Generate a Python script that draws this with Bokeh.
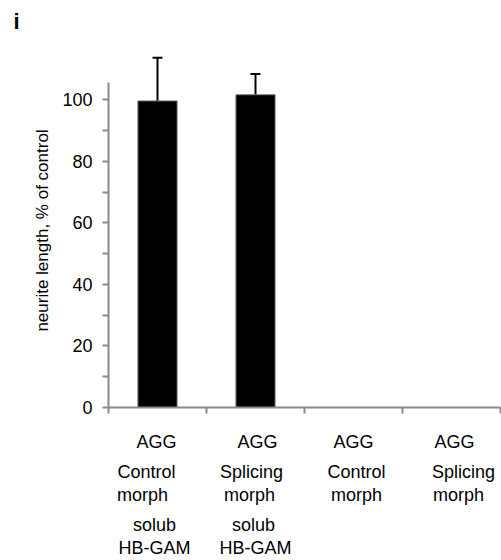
from bokeh.plotting import figure
from bokeh.models import (FixedTicker, Whisker, ColumnDataSource, TeeHead,
                          LinearAxis, Range1d, Title)
from bokeh.embed import file_html
from bokeh.resources import INLINE

# ---- data ----
group_line = ["AGG", "AGG", "AGG", "AGG"]
morph_line1 = ["Control", "Splicing", "Control", "Splicing"]
morph_line2 = ["morph", "morph", "morph", "morph"]
treat_line1 = ["solub", "solub", "", ""]
treat_line2 = ["HB-GAM", "HB-GAM", "", ""]
values = [99.6, 101.6, 0, 0]
errors = [14.0, 6.7, 0, 0]
y_ticks = [0, 20, 40, 60, 80, 100]
y_minor_ticks = [10, 30, 50, 70, 90]
y_label = "neurite length, % of control"
panel_letter = "i"

FONT = "Liberation Sans"
AXIS_GRAY = "#8a8a8a"
W, H = 501, 560
B_LEFT, B_RIGHT, B_TOP, B_BOTTOM = 108, 1, 53, 152
Y_END = 115
FRAME_W = W - B_LEFT - B_RIGHT
N = len(values)
CAT_PX = FRAME_W // N

xs = [i + 0.5 for i in range(N)]

p = figure(width=W, height=H, x_range=(0, N), y_range=(0, Y_END),
           output_backend="svg", toolbar_location=None,
           min_border_left=B_LEFT, min_border_right=B_RIGHT,
           min_border_top=B_TOP, min_border_bottom=B_BOTTOM)
p.outline_line_color = None
p.xgrid.visible = False
p.ygrid.visible = False
p.background_fill_color = "white"
p.border_fill_color = "white"
p.extra_x_ranges = {"px": Range1d(0, FRAME_W)}

# bars
p.vbar(x=xs, top=values, width=0.4, fill_color="black",
       line_color="#7a7a7a", line_width=1)

# error bars (upper only)
ex = [x for x, e in zip(xs, errors) if e > 0]
ev = [v for v, e in zip(values, errors) if e > 0]
ee = [v + e for v, e in zip(values, errors) if e > 0]
src = ColumnDataSource(dict(x=ex, lower=ev, upper=ee))
p.add_layout(Whisker(base="x", lower="lower", upper="upper", source=src,
                     dimension="height", line_color="black", line_width=2,
                     upper_head=TeeHead(size=10, line_color="black", line_width=2),
                     lower_head=None))

# x axis (category boundaries)
p.xaxis.ticker = FixedTicker(ticks=list(range(N + 1)))
p.xaxis.major_label_overrides = {i: "" for i in range(N + 1)}
p.xaxis.major_label_text_font_size = "1px"
p.xaxis.major_label_standoff = 0
p.xaxis.axis_line_color = AXIS_GRAY
p.xaxis.axis_line_width = 2
p.xaxis.major_tick_line_color = AXIS_GRAY
p.xaxis.major_tick_line_width = 2
p.xaxis.major_tick_out = 6
p.xaxis.major_tick_in = 0
p.xaxis.minor_tick_line_color = None

# y axis
p.yaxis.ticker = FixedTicker(ticks=y_ticks, minor_ticks=y_minor_ticks)
p.yaxis.bounds = (0, 105.6)
p.yaxis.axis_line_color = AXIS_GRAY
p.yaxis.axis_line_width = 2
p.yaxis.major_tick_line_color = AXIS_GRAY
p.yaxis.major_tick_line_width = 2
p.yaxis.minor_tick_line_color = AXIS_GRAY
p.yaxis.minor_tick_line_width = 2
p.yaxis.major_tick_out = 6
p.yaxis.major_tick_in = 0
p.yaxis.minor_tick_out = 6
p.yaxis.minor_tick_in = 0
p.yaxis.major_label_text_font = FONT
p.yaxis.major_label_text_font_size = "18px"
p.yaxis.major_label_text_color = "black"
p.yaxis.major_label_standoff = 10
p.yaxis.axis_label = y_label
p.yaxis.axis_label_text_font = FONT
p.yaxis.axis_label_text_font_size = "17px"
p.yaxis.axis_label_text_font_style = "normal"
p.yaxis.axis_label_text_color = "black"
p.yaxis.axis_label_standoff = 7


# category label rows, each an unlined axis (pixel offsets from category centres)
def label_axis(texts, dxs, standoff):
    ticks, over = [], {}
    for i, (t, dx) in enumerate(zip(texts, dxs)):
        if t:
            pos = int(CAT_PX * (i + 0.5)) + dx
            ticks.append(pos)
            over[pos] = t
    ax = LinearAxis(x_range_name="px", ticker=FixedTicker(ticks=ticks),
                    major_label_overrides=over)
    ax.axis_line_color = None
    ax.major_tick_line_color = None
    ax.minor_tick_line_color = None
    ax.major_tick_out = 0
    ax.major_tick_in = 0
    ax.minor_tick_out = 0
    ax.minor_tick_in = 0
    ax.major_label_standoff = standoff
    ax.major_label_text_font = FONT
    ax.major_label_text_font_size = "18px"
    ax.major_label_text_color = "black"
    p.add_layout(ax, "below")


label_axis(group_line, [-1, 2, 0, 3], 18)
label_axis(morph_line1, [-11, -4, 3, 12], 7)
label_axis(morph_line2, [-15, -6, 3, 7], 0)
label_axis(treat_line1, [-3, -2, 0, 0], 7)
label_axis(treat_line2, [-3, 0, 0, 0], 0)

# invisible spacer above the frame, then the panel letter further out
spacer = LinearAxis(x_range_name="px", ticker=FixedTicker(ticks=[0]),
                    major_label_overrides={0: ""})
spacer.axis_line_color = None
spacer.major_tick_line_color = None
spacer.minor_tick_line_color = None
spacer.major_tick_out = 20
spacer.major_tick_in = 0
spacer.minor_tick_out = 0
spacer.minor_tick_in = 0
spacer.major_label_standoff = 0
spacer.major_label_text_font_size = "1px"
p.add_layout(spacer, "above")

t = Title(text=panel_letter, align="left", offset=-95, standoff=0,
          text_font=FONT, text_font_size="22px", text_font_style="bold",
          text_color="black")
p.add_layout(t, "above")

open("out.html", "w").write(file_html(p, INLINE))
